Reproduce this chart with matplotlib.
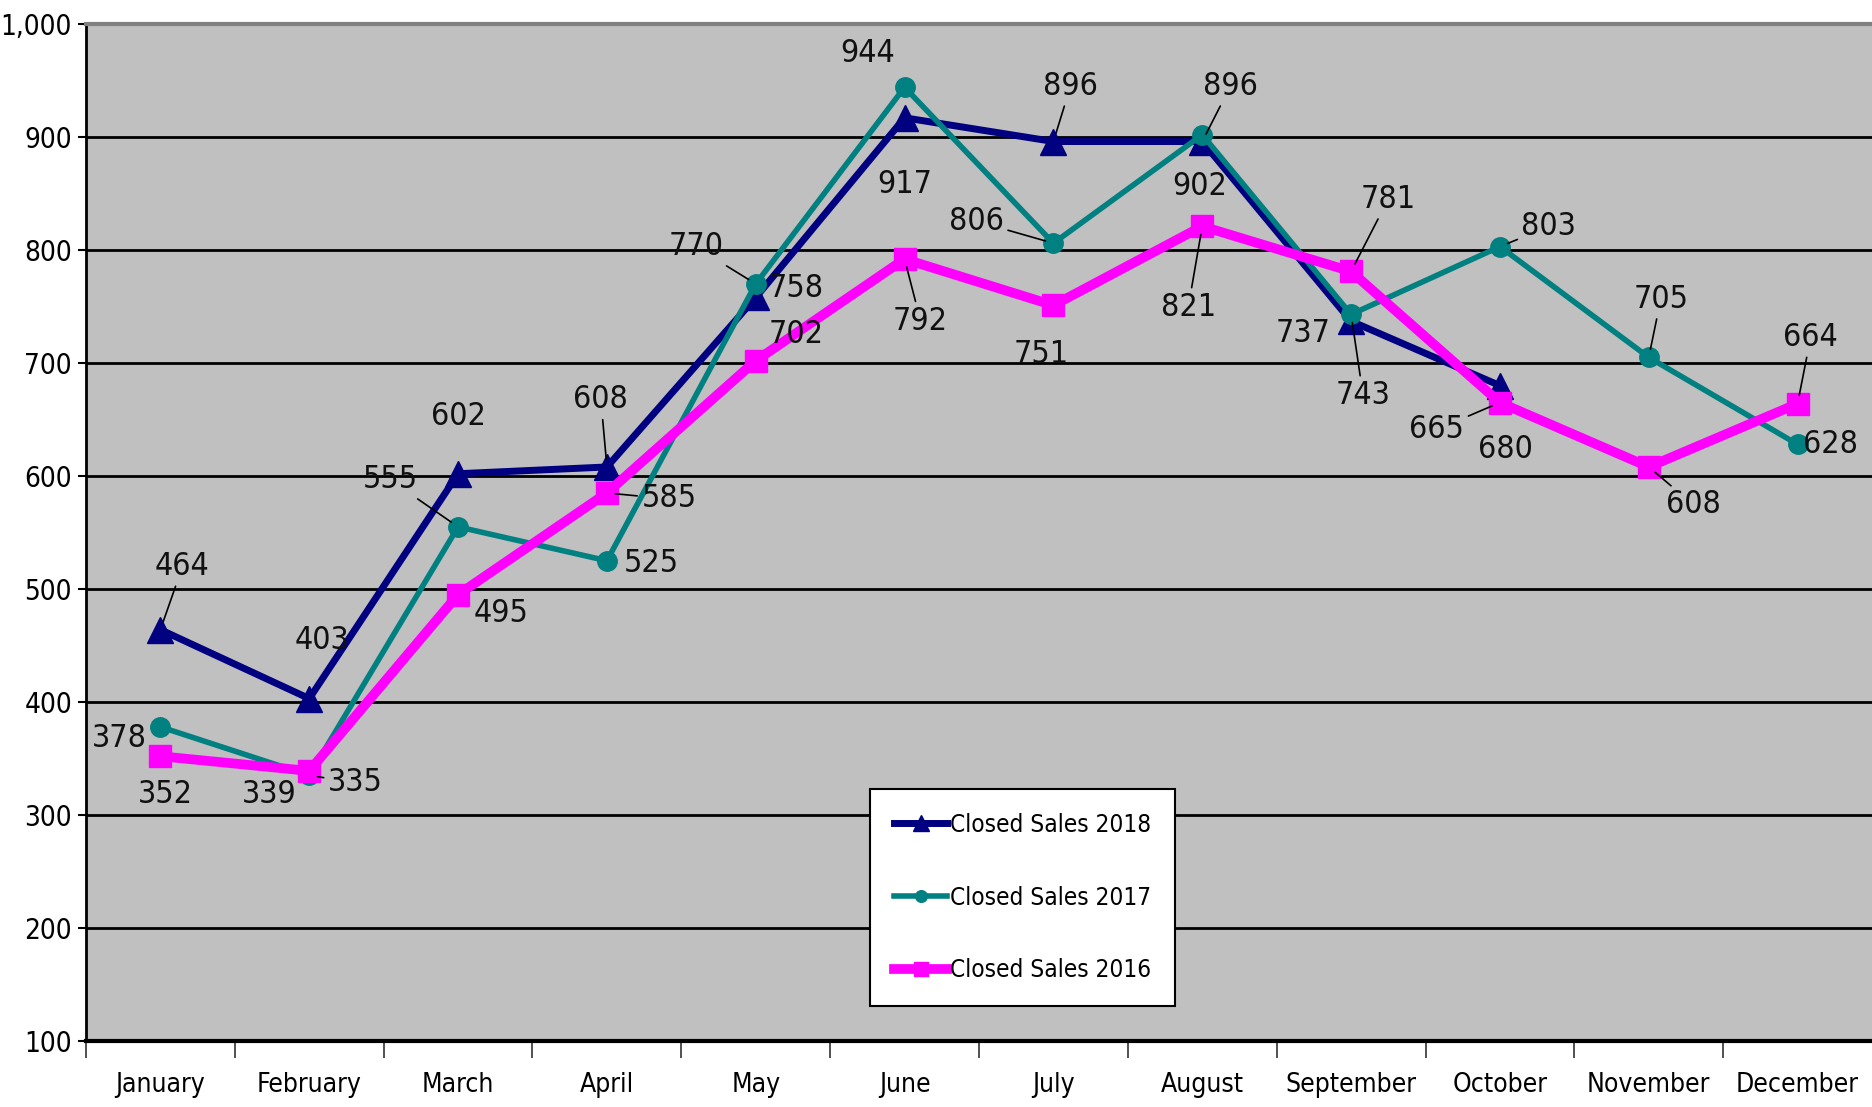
import matplotlib
matplotlib.use("Agg")
import matplotlib.pyplot as plt
from matplotlib.ticker import FuncFormatter, FixedLocator
from matplotlib import font_manager
import numpy as np

months = ["January", "February", "March", "April", "May", "June", "July",
          "August", "September", "October", "November", "December"]
sales_2018 = [464, 403, 602, 608, 758, 917, 896, 896, 737, 680]
sales_2017 = [378, 335, 555, 525, 770, 944, 806, 902, 743, 803, 705, 628]
sales_2016 = [352, 339, 495, 585, 702, 792, 751, 821, 781, 665, 608, 664]
yticks = [100, 200, 300, 400, 500, 600, 700, 800, 900, 1000]

# label offsets in pixels (dx, dy with dy positive downward), leader flag
off_2018 = [(22, -63, True), (13, -58, False), (0, -57, False), (-6, -67, True),
            (40, -9, False), (0, 67, False), (17, -55, True), (28, -55, True),
            (-48, 12, False), (6, 64, False)]
off_2017 = [(-41, 12, False), (46, 7, True), (-68, -47, True), (44, 3, False),
            (-60, -37, True), (-37, -34, False), (-77, -22, True), (-3, 52, False),
            (12, 81, True), (49, -20, True), (12, -58, True), (33, 0, False)]
off_2016 = [(5, 38, False), (-40, 24, False), (43, 19, False), (62, 6, True),
            (40, -26, False), (16, 62, True), (-12, 49, False), (-14, 81, True),
            (37, -72, True), (-63, 27, True), (45, 38, True), (13, -66, True)]

names = {f.name for f in font_manager.fontManager.ttflist}
if "Liberation Sans Narrow" in names:
    plt.rcParams["font.family"] = ["Liberation Sans Narrow", "DejaVu Sans"]
    plt.rcParams["font.stretch"] = "normal"
else:
    plt.rcParams["font.family"] = ["DejaVu Sans"]
    plt.rcParams["font.stretch"] = "condensed"

W, H = 1872, 1107
fig = plt.figure(figsize=(W / 100, H / 100), dpi=100)
fig.patch.set_facecolor("white")
ax = fig.add_axes([86 / W, 1 - 1041 / H, (W - 86) / W, (1041 - 24) / H])
ax.set_facecolor("#C0C0C0")

x = np.arange(len(months))
ax.set_xlim(-0.5, 11.5)
ax.set_ylim(100, 1000)

for v in yticks[1:-1]:
    ax.axhline(v, color="black", lw=2, zorder=1)

l18, = ax.plot(x[:len(sales_2018)], sales_2018, color="#000080", lw=5,
               marker="^", ms=19, zorder=3, label="Closed Sales 2018")
l17, = ax.plot(x, sales_2017, color="#008080", lw=4,
               marker="o", ms=14, zorder=4, label="Closed Sales 2017")
l16, = ax.plot(x, sales_2016, color="#FF00FF", lw=7,
               marker="s", ms=16, zorder=5, label="Closed Sales 2016")

def label(series, offs):
    for i, (v, (dx, dy, lead)) in enumerate(zip(series, offs)):
        kw = {}
        if lead:
            kw["arrowprops"] = dict(arrowstyle="-", color="black", lw=1.2,
                                    shrinkA=1, shrinkB=6)
        ax.annotate(str(v), xy=(x[i], v), xytext=(dx, -dy),
                    textcoords="offset pixels", ha="center", va="center",
                    fontsize=23, color="#111111", zorder=6, **kw)

label(sales_2018, off_2018)
label(sales_2017, off_2017)
label(sales_2016, off_2016)

ax.spines["right"].set_visible(False)
ax.spines["top"].set_color("#808080")
ax.spines["top"].set_linewidth(3)
ax.spines["left"].set_linewidth(2)
ax.spines["bottom"].set_linewidth(3)

ax.yaxis.set_major_locator(FixedLocator(yticks))
ax.yaxis.set_major_formatter(FuncFormatter(lambda v, p: f"{int(v):,}"))
ax.tick_params(axis="y", length=6, width=1.5, labelsize=20, pad=4)

ax.set_xticks(x)
ax.set_xticklabels(months)
ax.set_xticks(np.arange(-0.5, 11.5, 1.0), minor=True)
ax.tick_params(axis="x", which="major", length=0, labelsize=19, pad=22)
ax.tick_params(axis="x", which="minor", length=12, width=1.2, color="#333333")

leg = ax.legend(handles=[l18, l17, l16], loc="lower left",
                bbox_to_anchor=(0.432, 0.022), fontsize=17.5,
                frameon=True, fancybox=False, edgecolor="black",
                facecolor="white", framealpha=1, labelspacing=2.0,
                handlelength=2.2, handletextpad=0.1, borderpad=1.0,
                markerscale=0.6)
leg.get_frame().set_linewidth(1.5)
leg.set_zorder(7)

fig.savefig("out.png", dpi=100)
